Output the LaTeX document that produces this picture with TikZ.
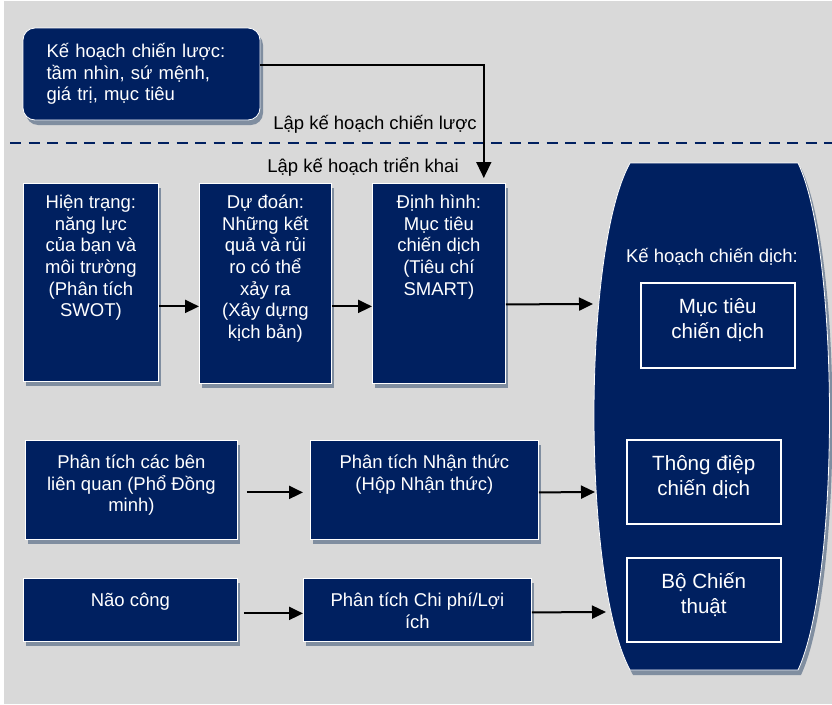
\documentclass[tikz,border=0pt]{standalone}
\usepackage{fontspec}
\setmainfont{Liberation Sans}
\usetikzlibrary{arrows.meta,shadows}
\definecolor{navy}{RGB}{0,32,96}
\definecolor{bggray}{RGB}{217,217,217}
\definecolor{shadowgray}{RGB}{128,142,160}
\newcommand{\boxtext}[4]{\parbox[c][#2][t]{#1}{\centering\vspace*{#3}\strut #4}}

\begin{document}
\begin{tikzpicture}[x=1pt, y=-1pt, >={Triangle[length=14pt,width=13pt]},
    every node/.style={font=\fontsize{18.5}{21.7}\selectfont},
    boxshadow/.style={drop shadow={shadow xshift=3pt, shadow yshift=-5pt, fill=shadowgray, opacity=1}},
    bluebox/.style={draw=white, line width=0.8pt, fill=navy, text=white, inner sep=0pt, anchor=north west, boxshadow},
    planbox/.style={draw=white, line width=1.5pt, text=white, inner sep=0pt, anchor=north west, font=\fontsize{20.6}{25}\selectfont},
    arrowline/.style={->, line width=2pt}]
    % Background
    \useasboundingbox (0,0) rectangle (832,704);
    \fill[bggray] (4,1) rectangle (832,704);

    % Strategic plan
    \node[bluebox, anchor=center, rounded corners=12pt, minimum width=237pt, minimum height=92pt, text width=190pt, align=left] (strat) at (141.5,74) {Kế hoạch chiến lược:\\ tầm nhìn, sứ mệnh,\\ giá trị, mục tiêu};
    \node[anchor=base] (stratLabel) at (375,129) {Lập kế hoạch chiến lược};
    \draw[navy, line width=2pt, dash pattern=on 11pt off 7.5pt] (10,143) -- (832,143);
    \node[anchor=base] (deployLabel) at (363,172) {Lập kế hoạch triển khai};

    % Campaign plan
    \fill[navy, draw=white, line width=0.8pt, boxshadow] (630,163) -- (798,163) .. controls (840,250) and (840,580) .. (798,670) -- (630,670) .. controls (582,580) and (582,250) .. cycle;
    \node[text=white, anchor=base] (planTitle) at (712,262) {Kế hoạch chiến dịch:};
    \node[planbox] (mucTieu) at (640,282) {\boxtext{154pt}{85pt}{13pt}{Mục tiêu\\ chiến dịch}};
    \node[planbox] (thongDiep) at (626,439) {\boxtext{154pt}{84pt}{13pt}{Thông điệp\\ chiến dịch}};
    \node[planbox] (boChienThuat) at (626,557) {\boxtext{154pt}{84pt}{13pt}{Bộ Chiến\\ thuật}};
    \coordinate (plan1) at (593,304);
    \coordinate (plan2) at (595,492);
    \coordinate (plan3) at (606,612);

    % Row 1
    \node[bluebox] (hien) at (23,183) {\boxtext{135pt}{198pt}{9.8pt}{Hiện trạng:\\ năng lực\\ của bạn và\\ môi trường\\ (Phân tích\\ SWOT)}};
    \node[bluebox] (duDoan) at (199,183) {\boxtext{132pt}{200pt}{9.8pt}{Dự đoán:\\ Những kết\\ quả và rủi\\ ro có thể\\ xảy ra\\ (Xây dựng\\ kịch bản)}};
    \node[bluebox] (dinh) at (372,183) {\boxtext{133pt}{200pt}{9.8pt}{Định hình:\\ Mục tiêu\\ chiến dịch\\ (Tiêu chí\\ SMART)}};

    % Rows 2 and 3
    \node[bluebox] (ben) at (25,440) {\boxtext{212pt}{99pt}{12.8pt}{Phân tích các bên\\ liên quan (Phổ Đồng\\ minh)}};
    \node[bluebox] (nhanThuc) at (310,440) {\boxtext{228pt}{99pt}{12.8pt}{Phân tích Nhận thức\\ (Hộp Nhận thức)}};
    \node[bluebox] (naoCong) at (23,578) {\boxtext{214pt}{63pt}{12.8pt}{Não công}};
    \node[bluebox] (chiPhi) at (303,578) {\boxtext{228pt}{63pt}{12.8pt}{Phân tích Chi phí/Lợi\\ ích}};

    % Arrows
    \draw[->, line width=1.5pt, >={Triangle[length=16pt,width=15pt]}] ([yshift=9pt]strat.east) -| ([xshift=-22pt,yshift=5pt]dinh.north east);
    \draw[arrowline] ([yshift=-24pt]hien.east) -- ([yshift=-23pt]duDoan.west);
    \draw[arrowline] ([yshift=-23pt]duDoan.east) -- ([yshift=-23pt]dinh.west);
    \draw[arrowline] ([yshift=-21pt]dinh.east) -- (plan1);
    \draw[arrowline, shorten <=9pt, shorten >=7pt] ([yshift=-2.5pt]ben.east) -- ([yshift=-2.5pt]nhanThuc.west);
    \draw[arrowline] ([yshift=-2.5pt]nhanThuc.east) -- (plan2);
    \draw[arrowline, shorten <=6pt] ([yshift=-3.5pt]naoCong.east) -- ([yshift=-3.5pt]chiPhi.west);
    \draw[arrowline] ([yshift=-2.5pt]chiPhi.east) -- (plan3);
\end{tikzpicture}
\end{document}
